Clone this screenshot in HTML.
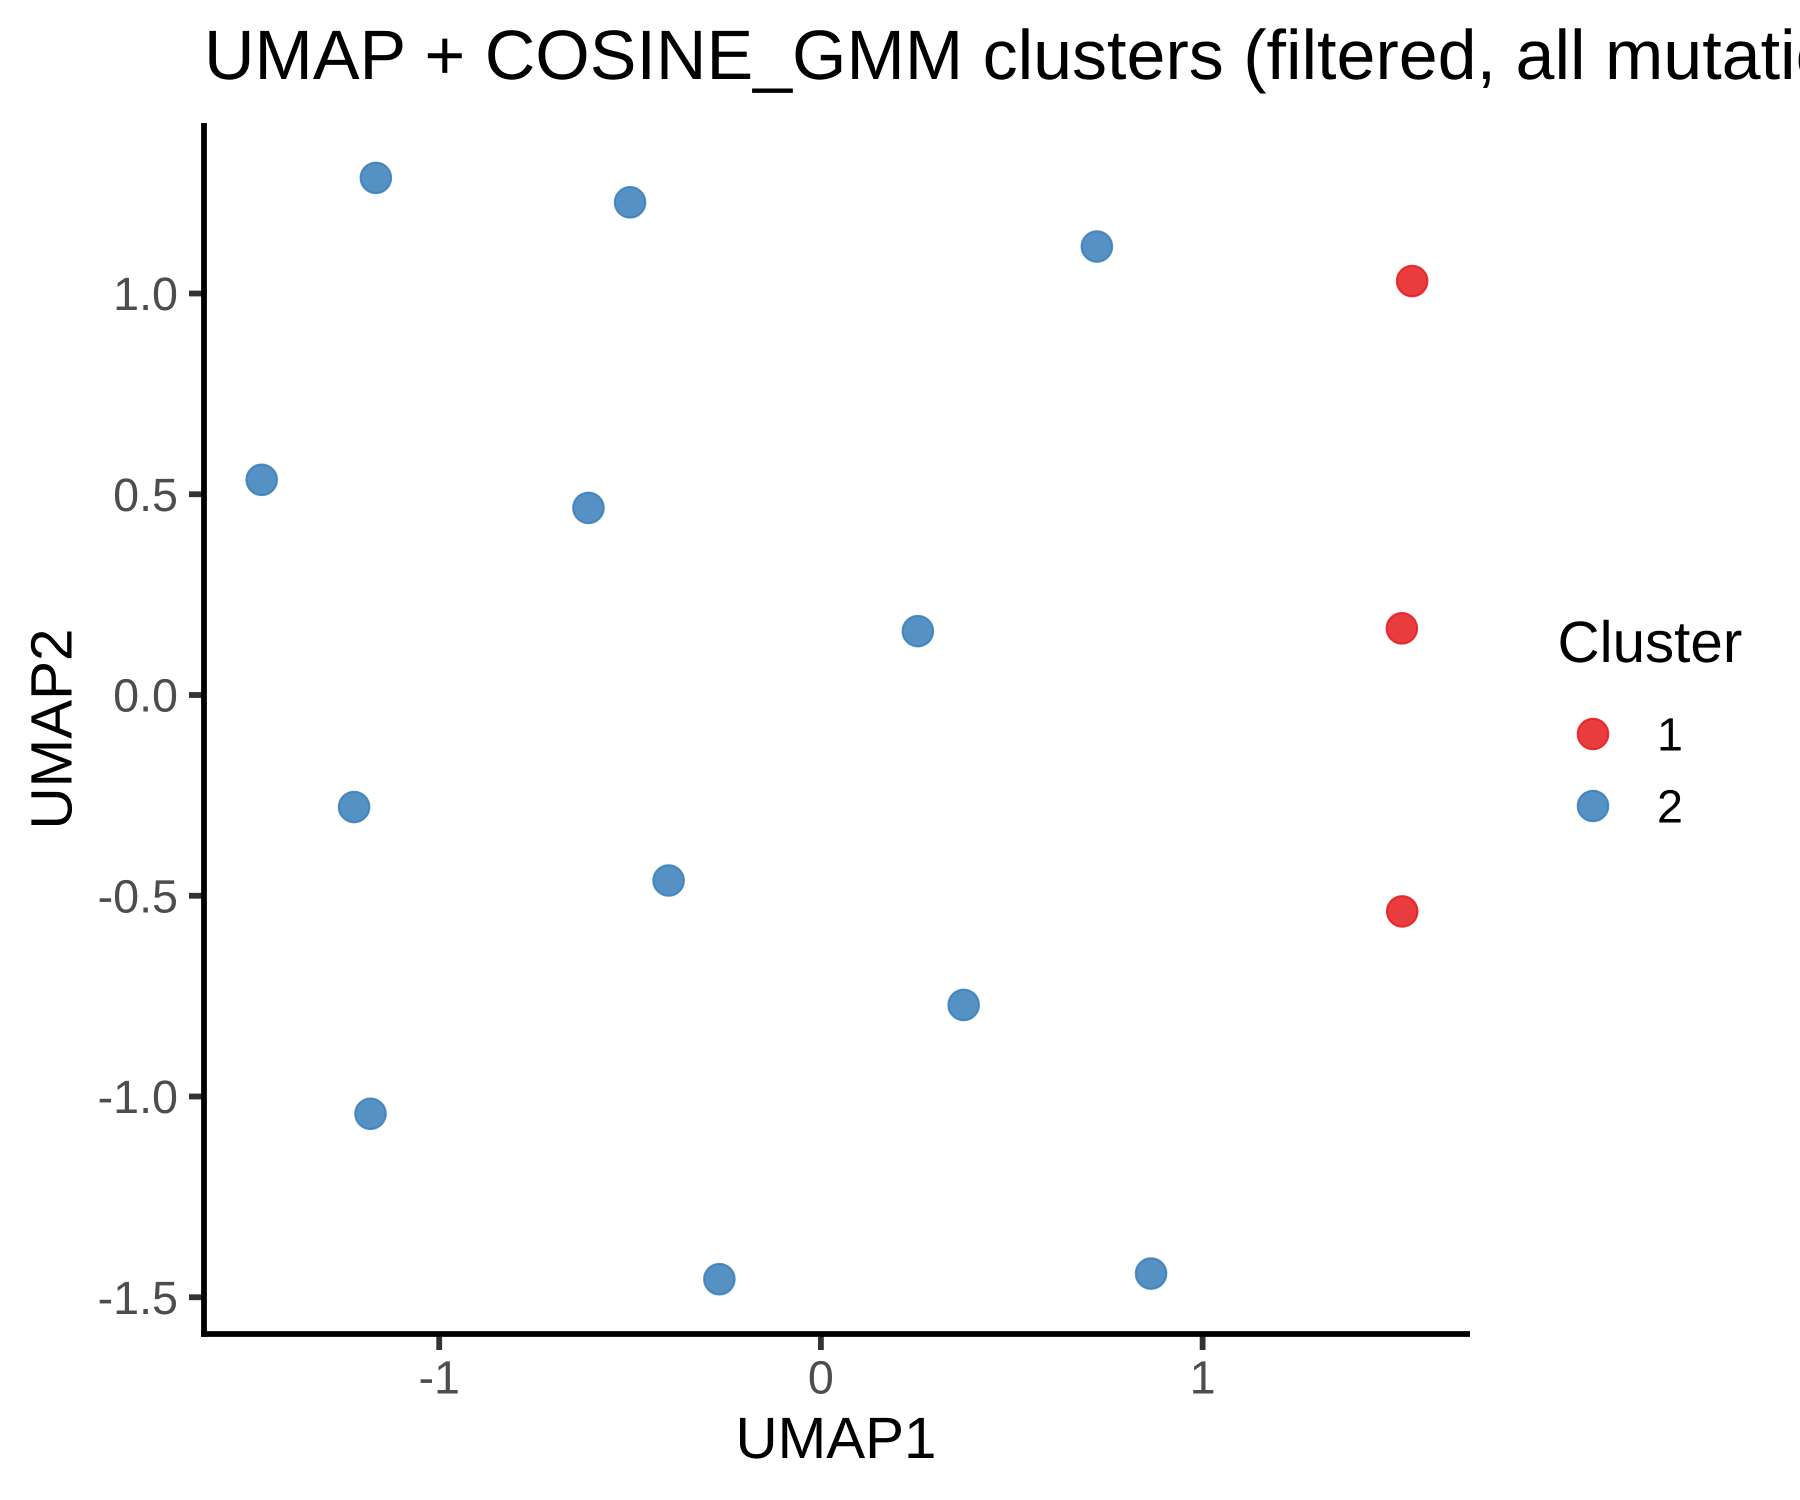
<!DOCTYPE html>
<html lang="en">
<head>
<meta charset="utf-8">
<title>UMAP + COSINE_GMM clusters</title>
<style>
html,body{margin:0;padding:0;background:#fff;width:1800px;height:1500px;overflow:hidden}
svg{display:block}
text{font-family:"Liberation Sans",Arial,sans-serif;text-rendering:geometricPrecision}
</style>
</head>
<body>
<svg id="chart" xmlns="http://www.w3.org/2000/svg" width="1800" height="1500" viewBox="0 0 1800 1500">
  <rect x="0" y="0" width="1800" height="1500" fill="#ffffff"/>
  <text x="204" y="79" font-size="70" fill="#000">UMAP + COSINE_GMM clusters (filtered, all mutations)</text>
  <g id="ticks"></g>
  <g id="points"></g>
  <line x1="204" y1="123" x2="204" y2="1337" stroke="#000" stroke-width="5.8"/>
  <line x1="201.3" y1="1334" x2="1470" y2="1334" stroke="#000" stroke-width="5.8"/>
  <text x="836" y="1458" font-size="58.33" text-anchor="middle" fill="#000">UMAP1</text>
  <text x="0" y="0" font-size="58.33" text-anchor="middle" fill="#000" transform="translate(71.5 729) rotate(-90)">UMAP2</text>
  <g id="legend">
    <text x="1557.5" y="662" font-size="58.33" fill="#000">Cluster</text>
  </g>
</svg>
<script>
const pointX = [-1.166, -0.500, -1.465, -0.609, 0.723, 1.549, 0.254, 1.522, -1.223, -0.399, -1.180, -0.266, 1.523, 0.374, 0.865];
const pointY = [1.288, 1.227, 0.536, 0.466, 1.117, 1.031, 0.159, 0.166, -0.279, -0.462, -1.043, -1.455, -0.539, -0.772, -1.441];
const pointCluster = ["2", "2", "2", "2", "2", "1", "2", "1", "2", "2", "2", "2", "1", "2", "2"];
const clusterLabels = ["1", "2"];
const clusterColors = ["#E41A1C", "#377EB8"];
const xTickValues = [-1, 0, 1];
const xTickLabels = ["-1", "0", "1"];
const yTickValues = [-1.5, -1, -0.5, 0, 0.5, 1];
const yTickLabels = ["-1.5", "-1.0", "-0.5", "0.0", "0.5", "1.0"];

const NS = "http://www.w3.org/2000/svg";
function xScale(v) { return 820.9 + 381.7 * v; }
function yScale(v) { return 695 - 401.5 * v; }
function make(tag, attrs, parent, content) {
  const el = document.createElementNS(NS, tag);
  for (const k in attrs) el.setAttribute(k, attrs[k]);
  if (content !== undefined) el.textContent = content;
  parent.appendChild(el);
  return el;
}
const ticksGroup = document.getElementById("ticks");
const pointsGroup = document.getElementById("points");
const legendGroup = document.getElementById("legend");

xTickValues.forEach(function (v, i) {
  const x = xScale(v);
  const tick = make("line", { x1: x, y1: 1336, x2: x, y2: 1350, stroke: "#333333", "stroke-width": 5.8 }, ticksGroup);
  
  
  const label = make("text", { x: x, y: 1393.5, "font-size": 46.67, "text-anchor": "middle", fill: "#4D4D4D" }, ticksGroup, xTickLabels[i]);
  
  
});

yTickValues.forEach(function (v, i) {
  const y = yScale(v);
  const tick = make("line", { x1: 189, y1: y, x2: 202, y2: y, stroke: "#333333", "stroke-width": 5.8 }, ticksGroup);
  
  
  const label = make("text", { x: 178, y: y + 16.5, "font-size": 46.67, "text-anchor": "end", fill: "#4D4D4D" }, ticksGroup, yTickLabels[i]);
  
  
});

function dot(cx, cy, color, parent) {
  return make("circle", { cx: cx, cy: cy, r: 15.3, fill: color, "fill-opacity": 0.85, stroke: color, "stroke-opacity": 0.85, "stroke-width": 2 }, parent);
}

pointX.forEach(function (v, i) {
  const color = clusterColors[clusterLabels.indexOf(pointCluster[i])];
  const point = dot(xScale(v), yScale(pointY[i]), color, pointsGroup);
  
  
});

clusterLabels.forEach(function (label, i) {
  const key = dot(1593, 734 + 72 * i, clusterColors[i], legendGroup);
  
  
  const text = make("text", { x: 1657, y: 750.5 + 72 * i, "font-size": 46.67, fill: "#000" }, legendGroup, label);
  
  
});
</script>
</body>
</html>
